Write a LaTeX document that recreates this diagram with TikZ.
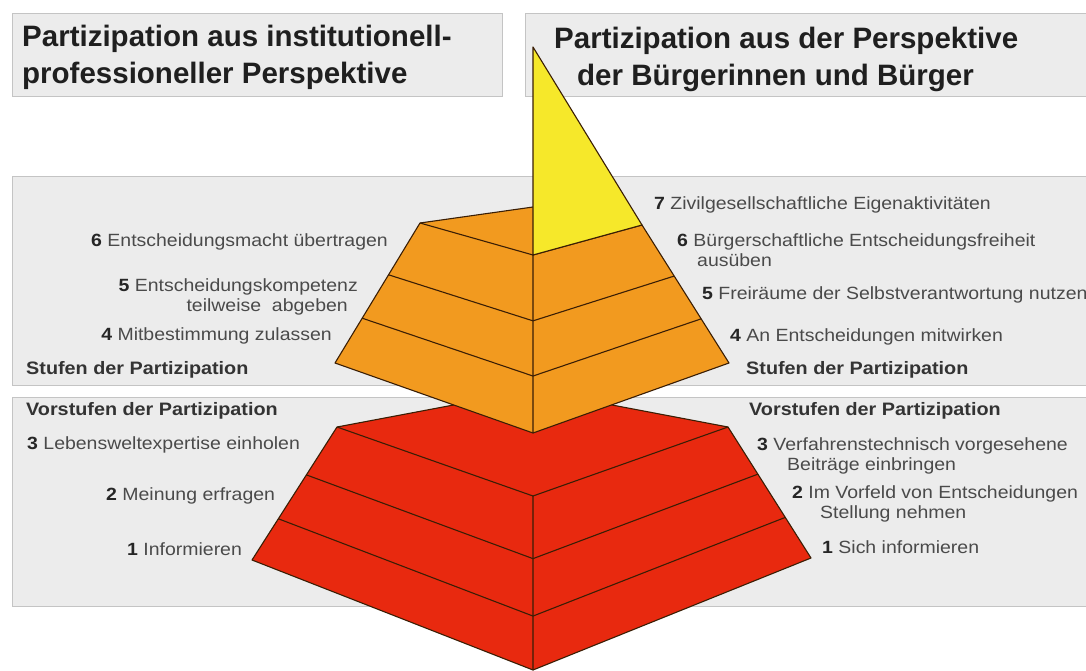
\documentclass[tikz,border=0pt]{standalone}
\usepackage{fontspec}
\setmainfont{Liberation Sans}
\newfontfamily\bodyfont[FakeStretch=1.1]{Liberation Sans}
\usetikzlibrary{calc}
\definecolor{panelfill}{HTML}{ECECEC}
\definecolor{panelline}{HTML}{C4C4C4}
\definecolor{tipyellow}{HTML}{F6E82A}
\definecolor{midorange}{HTML}{F29A1F}
\definecolor{basered}{HTML}{E8290F}
\definecolor{edgecol}{HTML}{3A1E05}
\definecolor{labelcol}{HTML}{4A4A4A}
\newcommand{\lvl}[1]{{\bfseries\color{black!85}#1}}
\tikzset{
  panel/.style={fill=panelfill, draw=panelline, line width=1pt},
  face/.style={draw=edgecol, line width=1.1pt, line join=round},
  head/.style={anchor=base west, inner sep=0pt, align=left, text=black!88,
    font=\fontsize{29.5}{37}\selectfont\bfseries},
  lbl/.style={inner sep=0pt, text=labelcol, font=\bodyfont\fontsize{17.7}{20}\selectfont},
  stage/.style={inner sep=0pt, text=black!80, anchor=base west,
    font=\bodyfont\fontsize{18}{20}\selectfont\bfseries}
}
\begin{document}
\begin{tikzpicture}[x=1pt,y=-1pt]
  \useasboundingbox (0,0) rectangle (1086,671);
  \fill[white] (0,0) rectangle (1086,671);

  % grey panels
  \draw[panel] (12,14) rectangle (502,97);
  \draw[panel] (525,14) rectangle (1092,97);
  \draw[panel] (12,177) rectangle (1092,385);
  \draw[panel] (12,397) rectangle (1092,606);

  % multi-line nodes sit on the baseline of their last line
  \node[head] (headleft) at (22,84) {Partizipation aus institutionell-\\professioneller Perspektive};
  \node[head] (headright) at (554,86) {Partizipation aus der Perspektive\\\hspace*{23pt}der B\"urgerinnen und B\"urger};

  % red base, steps 1-3
  \coordinate (rTL) at (337,427);
  \coordinate (rTB) at (533,390);
  \coordinate (rTR) at (728,427);
  \coordinate (rTF) at (533,496);
  \coordinate (rBL) at (252,560);
  \coordinate (rBR) at (811,558);
  \coordinate (rBF) at (533,670);
  \fill[basered] (rTL) -- (rTB) -- (rTR) -- (rBR) -- (rBF) -- (rBL) -- cycle;
  \draw[face] (rTL) -- (rTB) -- (rTR) -- (rBR) -- (rBF) -- (rBL) -- cycle;
  \draw[face] (rTL) -- (rTF) -- (rTR) (rTF) -- (rBF);
  \foreach \f in {0.36,0.69}
    \draw[face] ($(rTL)!\f!(rBL)$) -- ($(rTF)!\f!(rBF)$) -- ($(rTR)!\f!(rBR)$);

  % orange middle, steps 4-6
  \coordinate (oTL) at (420,223);
  \coordinate (oTB) at (533,207);
  \coordinate (oTR) at (642,225);
  \coordinate (oTF) at (533,255);
  \coordinate (oBL) at (335,363);
  \coordinate (oBR) at (729,363);
  \coordinate (oBF) at (533,433);
  \fill[midorange] (oTL) -- (oTB) -- (oTR) -- (oBR) -- (oBF) -- (oBL) -- cycle;
  \draw[face] (oTL) -- (oTB) -- (oTR) -- (oBR) -- (oBF) -- (oBL) -- cycle;
  \draw[face] (oTL) -- (oTF) -- (oTR) (oTF) -- (oBF);
  \foreach \f in {0.37,0.68}
    \draw[face] ($(oTL)!\f!(oBL)$) -- ($(oTF)!\f!(oBF)$) -- ($(oTR)!\f!(oBR)$);

  % yellow tip, step 7
  \coordinate (apex) at (533,47);
  \filldraw[face, fill=tipyellow] (apex) -- (oTF) -- (oTR) -- cycle;

  % left labels
  \node[lbl, anchor=base east] (l6) at (388,246) {\lvl{6} Entscheidungsmacht \"ubertragen};
  \node[lbl, anchor=base east, align=right] (l5) at (358,311) {\lvl{5} Entscheidungskompetenz\\teilweise\ \ abgeben\hspace*{10pt}};
  \node[lbl, anchor=base east] (l4) at (332,340) {\lvl{4} Mitbestimmung zulassen};
  \node[stage] (lstufen) at (26,374) {Stufen der Partizipation};
  \node[stage] (lvorstufen) at (26,415) {Vorstufen der Partizipation};
  \node[lbl, anchor=base west] (l3) at (27,449) {\lvl{3} Lebensweltexpertise einholen};
  \node[lbl, anchor=base west] (l2) at (106,500) {\lvl{2} Meinung erfragen};
  \node[lbl, anchor=base west] (l1) at (127,555) {\lvl{1} Informieren};

  % right labels
  \node[lbl, anchor=base west] (r7) at (654,209) {\lvl{7} Zivilgesellschaftliche Eigenaktivit\"aten};
  \node[lbl, anchor=base west, align=left] (r6) at (677,266) {\lvl{6} B\"urgerschaftliche Entscheidungsfreiheit\\\hspace*{20pt}aus\"uben};
  \node[lbl, anchor=base west] (r5) at (702,299) {\lvl{5} Freir\"aume der Selbstverantwortung nutzen};
  \node[lbl, anchor=base west] (r4) at (730,341) {\lvl{4} An Entscheidungen mitwirken};
  \node[stage] (rstufen) at (746,374) {Stufen der Partizipation};
  \node[stage] (rvorstufen) at (749,415) {Vorstufen der Partizipation};
  \node[lbl, anchor=base west, align=left] (r3) at (757,470) {\lvl{3} Verfahrenstechnisch vorgesehene\\\hspace*{30pt}Beitr\"age einbringen};
  \node[lbl, anchor=base west, align=left] (r2) at (792,518) {\lvl{2} Im Vorfeld von Entscheidungen\\\hspace*{28pt}Stellung nehmen};
  \node[lbl, anchor=base west] (r1) at (822,553) {\lvl{1} Sich informieren};
\end{tikzpicture}
\end{document}
